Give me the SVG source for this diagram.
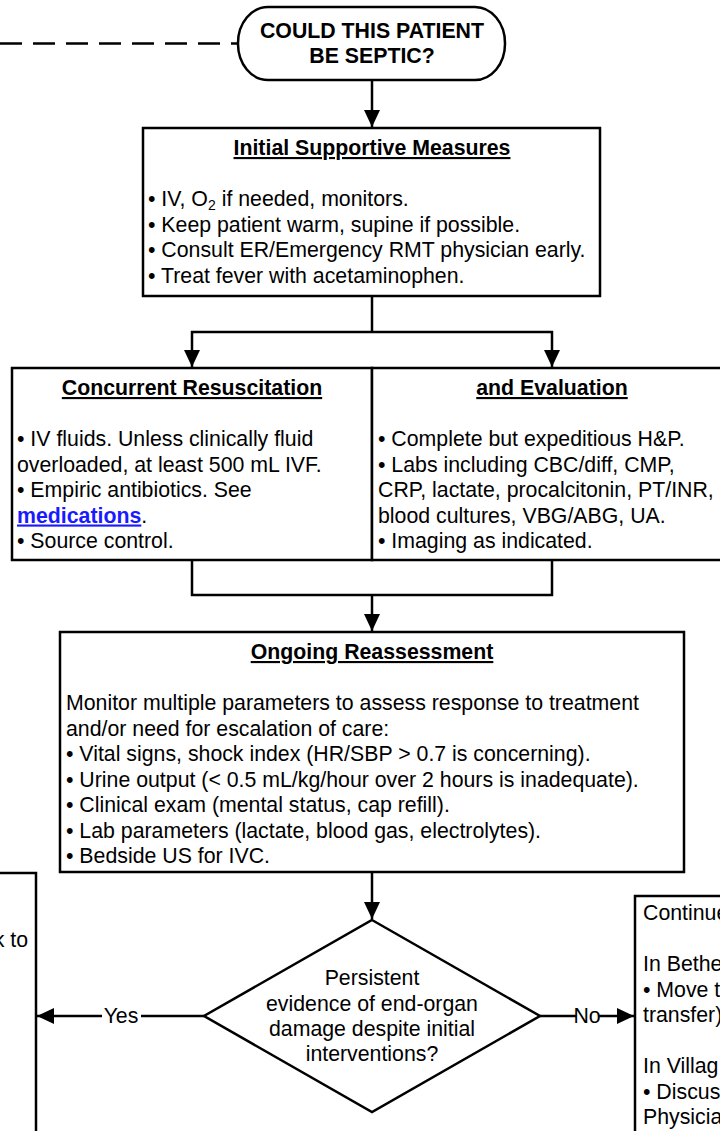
<svg xmlns="http://www.w3.org/2000/svg" width="720" height="1131" viewBox="0 0 720 1131">
<style>
.box{fill:#fff;stroke:#000;stroke-width:2.5}
.ln{fill:none;stroke:#000;stroke-width:2.5}
.t{font-family:"Liberation Sans",Arial,sans-serif;font-size:21.3px;fill:#000}
.b{font-weight:bold}
.u{text-decoration:underline}
.c{text-anchor:middle}
.lnk{fill:#1a1aff;font-weight:bold;text-decoration:underline}
</style>
<defs>
<marker id="ah" markerUnits="userSpaceOnUse" markerWidth="18" markerHeight="18" viewBox="0 0 18 18" refX="17" refY="9" orient="auto">
<path d="M0,1 L17,9 L0,17 Z" fill="#000"/>
</marker>
</defs>
<rect width="720" height="1131" fill="#fff"/>
<g id="connectors">
<line class="ln" x1="0" y1="43.5" x2="238" y2="43.5" stroke-dasharray="22 11"/>
<line class="ln" x1="372" y1="80" x2="372" y2="127" marker-end="url(#ah)"/>
<polyline class="ln" points="372,296 372,332"/>
<polyline class="ln" points="372,332 192,332 192,367" marker-end="url(#ah)"/>
<polyline class="ln" points="372,332 552,332 552,367" marker-end="url(#ah)"/>
<polyline class="ln" points="192,560 192,595 552,595 552,560"/>
<line class="ln" x1="372" y1="595" x2="372" y2="631" marker-end="url(#ah)"/>
<line class="ln" x1="372" y1="872" x2="372" y2="919" marker-end="url(#ah)"/>
<line class="ln" x1="204" y1="1016" x2="141" y2="1016"/>
<line class="ln" x1="102" y1="1016" x2="37" y2="1016" marker-end="url(#ah)"/>
<text class="t c" x="121" y="1023">Yes</text>
<line class="ln" x1="540" y1="1016" x2="576" y2="1016"/>
<line class="ln" x1="599" y1="1016" x2="634" y2="1016" marker-end="url(#ah)"/>
<text class="t c" x="587" y="1023">No</text>
</g>
<g id="start">
<rect class="box" x="238" y="7" width="267" height="73" rx="30" ry="36"/>
<text class="t b c" x="372" y="38">COULD THIS PATIENT</text>
<text class="t b c" x="372" y="63">BE SEPTIC?</text>
</g>
<g id="initial">
<rect class="box" x="143" y="128" width="457" height="168"/>
<text class="t b u c" x="372" y="155">Initial Supportive Measures</text>
<text class="t" x="148" y="206">• IV, O<tspan font-size="14" dy="4">2</tspan><tspan dy="-4"> if needed, monitors.</tspan></text>
<text class="t" x="148" y="231.5">• Keep patient warm, supine if possible.</text>
<text class="t" x="148" y="257">• Consult ER/Emergency RMT physician early.</text>
<text class="t" x="148" y="282.5">• Treat fever with acetaminophen.</text>
</g>
<g id="resuscitation">
<rect class="box" x="12" y="368" width="360" height="192"/>
<text class="t b u c" x="192" y="395">Concurrent Resuscitation</text>
<text class="t" x="17" y="446">• IV fluids. Unless clinically fluid</text>
<text class="t" x="17" y="471.5">overloaded, at least 500 mL IVF.</text>
<text class="t" x="17" y="497">• Empiric antibiotics. See</text>
<text class="t" x="17" y="522.5"><tspan class="lnk">medications</tspan>.</text>
<text class="t" x="17" y="548">• Source control.</text>
</g>
<g id="evaluation">
<rect class="box" x="372" y="368" width="360" height="192"/>
<text class="t b u c" x="552" y="395">and Evaluation</text>
<text class="t" x="378" y="446">• Complete but expeditious H&amp;P.</text>
<text class="t" x="378" y="471.5">• Labs including CBC/diff, CMP,</text>
<text class="t" x="378" y="497">CRP, lactate, procalcitonin, PT/INR,</text>
<text class="t" x="378" y="522.5">blood cultures, VBG/ABG, UA.</text>
<text class="t" x="378" y="548">• Imaging as indicated.</text>
</g>
<g id="reassessment">
<rect class="box" x="60" y="632" width="624" height="240"/>
<text class="t b u c" x="372" y="659">Ongoing Reassessment</text>
<text class="t" x="66" y="710">Monitor multiple parameters to assess response to treatment</text>
<text class="t" x="66" y="735.5">and/or need for escalation of care:</text>
<text class="t" x="66" y="761">• Vital signs, shock index (HR/SBP &gt; 0.7 is concerning).</text>
<text class="t" x="66" y="786.5">• Urine output (&lt; 0.5 mL/kg/hour over 2 hours is inadequate).</text>
<text class="t" x="66" y="812">• Clinical exam (mental status, cap refill).</text>
<text class="t" x="66" y="837.5">• Lab parameters (lactate, blood gas, electrolytes).</text>
<text class="t" x="66" y="863">• Bedside US for IVC.</text>
</g>
<g id="decision">
<polygon class="box" points="372,920 540,1016 372,1112 204,1016"/>
<text class="t c" x="372" y="985">Persistent</text>
<text class="t c" x="372" y="1011">evidence of end-organ</text>
<text class="t c" x="372" y="1036">damage despite initial</text>
<text class="t c" x="372" y="1061">interventions?</text>
</g>
<g id="yes-box">
<rect class="box" x="-20" y="873" width="56" height="280"/>
<text class="t" x="28" y="947" text-anchor="end">k to</text>
</g>
<g id="no-box">
<rect class="box" x="635" y="896" width="120" height="260"/>
<text class="t" x="643" y="920">Continue</text>
<text class="t" x="643" y="971">In Bethe</text>
<text class="t" x="643" y="997">• Move t</text>
<text class="t" x="643" y="1022">transfer)</text>
<text class="t" x="643" y="1073">In Villag</text>
<text class="t" x="643" y="1099">• Discus</text>
<text class="t" x="643" y="1124">Physicia</text>
</g>
</svg>
